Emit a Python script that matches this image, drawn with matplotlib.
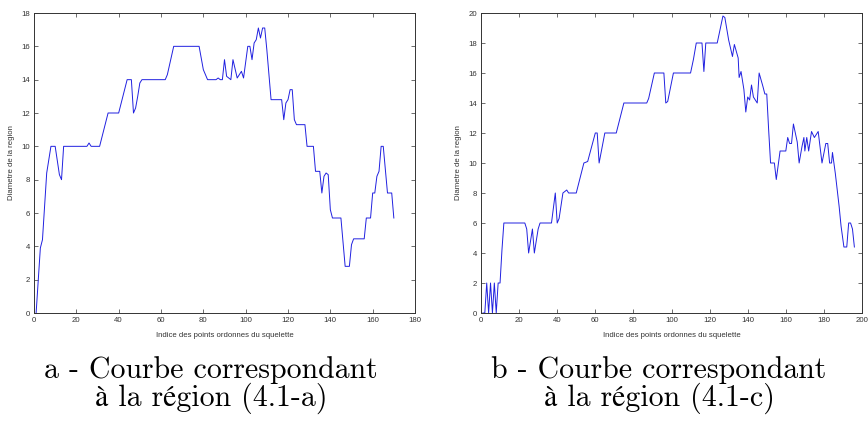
import matplotlib
matplotlib.use("Agg")
import matplotlib.pyplot as plt

# region (4.1-a): skeleton index / region diameter
xa = [1, 3, 4, 6, 8, 10, 12, 13, 14, 25, 26, 27, 31, 35, 40, 44, 46, 47, 48, 49, 50, 51,
      62, 63, 66, 78, 79, 80, 82, 86, 87, 88, 89, 90, 91, 93, 94, 96, 98, 99, 101, 102,
      103, 104, 105, 106, 107, 108, 109, 110, 112, 117, 118, 119, 120, 121, 122, 123, 124,
      128, 129, 132, 133, 135, 136, 137, 138, 139, 140, 141, 145, 147, 149, 150, 151, 156,
      157, 159, 160, 161, 162, 163, 164, 165, 167, 169, 170]
ya = [0, 3.9, 4.4, 8.4, 10, 10, 8.3, 8.0, 10, 10, 10.2, 10, 10, 12, 12, 14, 14, 12, 12.3, 13, 13.8, 14,
      14, 14.3, 16, 16, 15.3, 14.6, 14, 14, 14.1, 14, 14, 15.2, 14.2, 14, 15.2, 14.1, 14.5, 14.1, 16, 16,
      15.2, 16.2, 16.4, 17.1, 16.5, 17.1, 17.1, 15.8, 12.8, 12.8, 11.6, 12.6, 12.8, 13.4, 13.4, 11.6, 11.3,
      11.3, 10.0, 10.0, 8.5, 8.5, 7.2, 8.2, 8.4, 8.3, 6.2, 5.7, 5.7, 2.8, 2.8, 4.1, 4.45, 4.45,
      5.7, 5.7, 7.2, 7.2, 8.2, 8.5, 10, 10, 7.2, 7.2, 5.7]

# region (4.1-c)
xc = [1, 2, 3, 4, 5, 6, 7, 8, 9, 10, 11, 12, 23, 24, 25, 27, 28, 30, 31, 37, 39, 40, 41, 43, 45, 46,
      50, 54, 56, 60, 61, 62, 65, 71, 75, 87, 88, 91, 96, 97, 98, 101, 110, 111.5, 113, 116, 117,
      118, 124, 125, 127, 128, 130, 132, 133, 135, 135.5, 136.5, 138, 139, 140, 141, 142, 143, 145,
      146, 148, 149, 150, 151, 152, 154, 155, 157, 160, 161, 162, 163, 164, 166, 167, 168.5, 169.5,
      170, 171, 172, 173.5, 175, 177, 179, 181, 182, 183, 184, 184.5, 186, 188, 189, 190.5, 192,
      193, 194, 195, 196]
yc = [0, 0, 2, 0, 2, 0, 2, 0, 2, 2, 4.2, 6, 6, 5.6, 4, 5.6, 4, 5.6, 6, 6, 8, 6, 6.3, 8, 8.2, 8,
      8, 10, 10.1, 12, 12, 10, 12, 12, 14, 14, 14.3, 16, 16, 14, 14.1, 16, 16, 16.9, 18, 18, 16.1,
      18, 18, 18.6, 19.8, 19.7, 18.2, 17.1, 17.9, 17.0, 15.7, 16.1, 14.9, 13.4, 14.4, 14.2, 15.2, 14.4, 14.0,
      16.0, 15.1, 14.6, 14.6, 12.2, 10.0, 10.0, 8.9, 10.8, 10.8, 11.7, 11.3, 11.3, 12.6, 11.4, 10.0, 11.1, 11.7,
      10.8, 11.7, 10.8, 12.1, 11.7, 12.1, 10.0, 11.3, 11.3, 10.0, 10.0, 10.7, 9.3, 7.1, 5.8, 4.4, 4.4,
      6.0, 6.0, 5.6, 4.4]

xticks_a = [0, 20, 40, 60, 80, 100, 120, 140, 160, 180]
yticks_a = [0, 2, 4, 6, 8, 10, 12, 14, 16, 18]
xticks_c = [0, 20, 40, 60, 80, 100, 120, 140, 160, 180, 200]
yticks_c = [0, 2, 4, 6, 8, 10, 12, 14, 16, 18, 20]

xlab = "Indice des points ordonnes du squelette"
ylab = "Diametre de la region"
cap_a = ["a - Courbe correspondant", "à la région (4.1-a)"]
cap_c = ["b - Courbe correspondant", "à la région (4.1-c)"]

plt.rcParams['font.family'] = ['Liberation Sans', 'DejaVu Sans']

fig = plt.figure(figsize=(8.68, 4.21), dpi=100)
W, H = 868, 421


def panel(left, x, y, xt, yt, ymax, xmax):
    ax = fig.add_axes([left / W, 1 - 313 / H, 381 / W, 300 / H])
    ax.plot(x, y, color='#2020e0', lw=0.7)
    ax.set_xlim(0, xmax)
    ax.set_ylim(0, ymax)
    ax.set_xticks(xt)
    ax.set_yticks(yt)
    ax.tick_params(direction='in', length=3, width=0.5, labelsize=5.6,
                   top=True, right=True, pad=3, colors='#333333')
    for s in ax.spines.values():
        s.set_linewidth(0.7)
        s.set_color('#333333')
    ax.set_xlabel(xlab, fontsize=5.6, color='#333333')
    ax.set_ylabel(ylab, fontsize=5.6, color='#333333')
    ax.xaxis.set_label_coords(0.5, -0.063)
    ax.yaxis.set_label_coords(-0.05, 0.5)
    return ax


panel(34, xa, ya, xticks_a, yticks_a, 18, 180)
panel(481, xc, yc, xticks_c, yticks_c, 20, 200)

cap_font = ['cmr10', 'STIXGeneral']
for cx, lines in [(211, cap_a), (659, cap_c)]:
    fig.text(cx / W, 1 - 378 / H, lines[0], ha='center', va='baseline',
             fontsize=21.5, family=cap_font)
    fig.text(cx / W, 1 - 406 / H, lines[1], ha='center', va='baseline',
             fontsize=21.5, family=cap_font)

fig.savefig("out.png", dpi=100)
